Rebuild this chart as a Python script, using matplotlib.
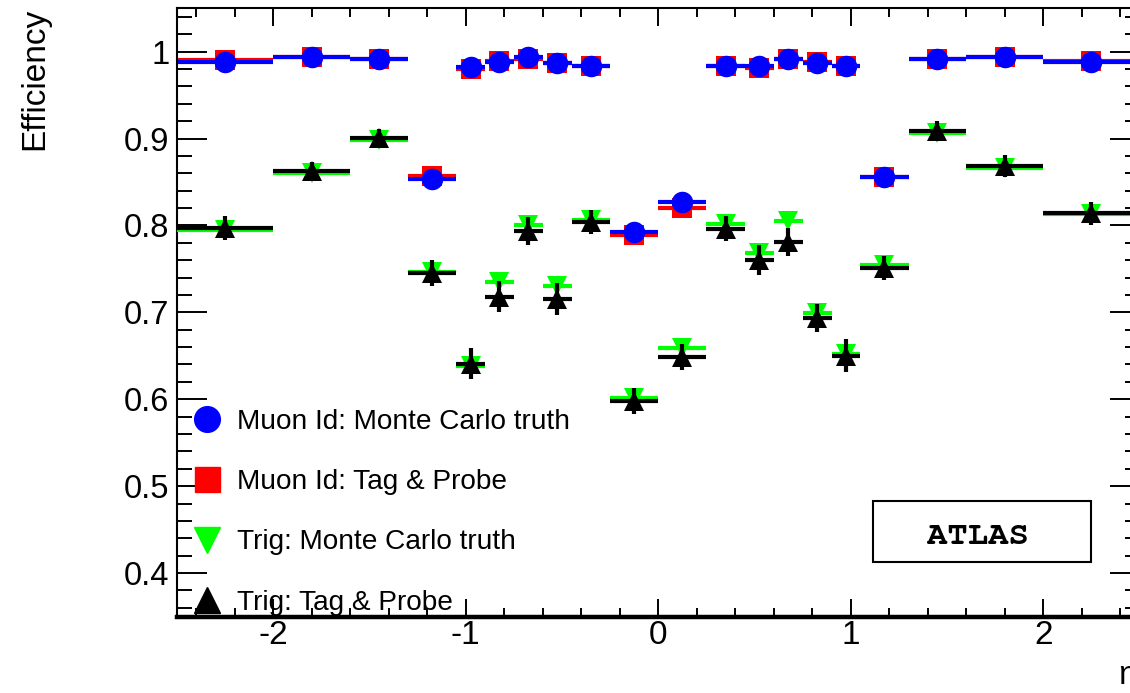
import matplotlib
matplotlib.use('Agg')
import matplotlib.pyplot as plt
import numpy as np
from matplotlib.lines import Line2D
from matplotlib.patches import Rectangle
from matplotlib.ticker import MultipleLocator, FuncFormatter

# eta binning and efficiencies
eta_edges = [-2.5, -2.0, -1.6, -1.3, -1.05, -0.9, -0.75, -0.6, -0.45, -0.25, 0.0,
             0.25, 0.45, 0.6, 0.75, 0.9, 1.05, 1.3, 1.6, 2.0, 2.5]

muid_mc = [0.988, 0.9935, 0.992, 0.854, 0.982, 0.988, 0.9935, 0.9866, 0.983, 0.792,
           0.827, 0.983, 0.984, 0.992, 0.9866, 0.983, 0.8555, 0.992, 0.994, 0.988]
muid_tp = [0.990, 0.994, 0.992, 0.857, 0.980, 0.989, 0.992, 0.987, 0.984, 0.789,
           0.820, 0.9835, 0.981, 0.992, 0.9885, 0.983, 0.8555, 0.992, 0.994, 0.989]
trig_mc = [0.795, 0.860, 0.898, 0.747, 0.638, 0.735, 0.8006, 0.7307, 0.8063, 0.601,
           0.6587, 0.8014, 0.768, 0.8055, 0.699, 0.6515, 0.754, 0.906, 0.8658, 0.813]
trig_tp = [0.797, 0.8627, 0.901, 0.745, 0.641, 0.718, 0.794, 0.7154, 0.8037, 0.598,
           0.649, 0.7963, 0.760, 0.7807, 0.6932, 0.650, 0.751, 0.9087, 0.8685, 0.814]

muid_err = [0.003] * 20
trig_mc_err = [0.006] * 20
trig_tp_err = [0.014, 0.010, 0.010, 0.015, 0.018, 0.018, 0.016, 0.018, 0.014, 0.015,
               0.015, 0.014, 0.017, 0.016, 0.016, 0.019, 0.014, 0.012, 0.013, 0.013]

labels = ['Muon Id: Monte Carlo truth', 'Muon Id: Tag & Probe',
          'Trig: Monte Carlo truth', 'Trig: Tag & Probe']

plt.rcParams['font.family'] = ['Liberation Sans', 'DejaVu Sans']
plt.rcParams['axes.unicode_minus'] = False

W, H = 1130, 693
fig = plt.figure(figsize=(W / 100, H / 100), dpi=100)
ax = fig.add_axes([177 / W, (H - 616.5) / H, 962.5 / W, 608.3 / H])

edges = np.array(eta_edges)
centers = 0.5 * (edges[1:] + edges[:-1])
halfw = 0.5 * (edges[1:] - edges[:-1])

series = [
    (muid_tp, muid_err, 'red', 's', 14.5, 1),
    (muid_mc, muid_err, 'blue', 'o', 15.5, 2),
    (trig_mc, trig_mc_err, '#00ff00', 'v', 15, 3),
    (trig_tp, trig_tp_err, 'black', '^', 15, 4),
]
for vals, err, col, mk, ms, z in series:
    ax.errorbar(centers, vals, xerr=halfw, yerr=err, fmt=mk, color=col,
                markersize=ms, markeredgewidth=0, elinewidth=3.0,
                capsize=2.6, capthick=3.0, zorder=z)

ax.set_xlim(-2.5, 2.5)
ax.set_ylim(0.35, 1.05)
ax.xaxis.set_major_locator(MultipleLocator(1))
ax.xaxis.set_minor_locator(MultipleLocator(0.2))
ax.yaxis.set_major_locator(MultipleLocator(0.1))
ax.yaxis.set_minor_locator(MultipleLocator(0.02))
ax.yaxis.set_major_formatter(FuncFormatter(lambda v, p: ('%.1f' % v).rstrip('0').rstrip('.')))

ax.tick_params(which='both', direction='in', top=True, right=True, width=1.4)
ax.tick_params(axis='y', which='major', length=21.5, labelsize=23.5, pad=5.5)
ax.tick_params(axis='y', which='minor', length=10.8)
ax.tick_params(axis='x', which='major', length=13, labelsize=24, pad=2.5)
ax.tick_params(axis='x', which='minor', length=6.5)
for s in ['left', 'top', 'right']:
    ax.spines[s].set_linewidth(1.5)
ax.spines['bottom'].set_linewidth(3.2)

handles = [Line2D([], [], ls='none', marker='o', color='blue', markersize=18.5),
           Line2D([], [], ls='none', marker='s', color='red', markersize=18),
           Line2D([], [], ls='none', marker='v', color='#00ff00', markersize=18.5),
           Line2D([], [], ls='none', marker='^', color='black', markersize=18.5)]
fig.legend(handles, labels, loc='upper left', bbox_to_anchor=(193 / W, (H - 409) / H),
           frameon=False, fontsize=20.2, handlelength=1.0, handletextpad=0.58,
           labelspacing=1.22, borderpad=0, borderaxespad=0)

ax.add_patch(Rectangle((0.7231, 0.0896), 0.2265, 0.1003, transform=ax.transAxes,
                       fill=False, edgecolor='black', linewidth=1.5, zorder=5))
ax.text(0.8322, 0.1315, 'ATLAS', transform=ax.transAxes, ha='center', va='center',
        fontsize=24.5, fontweight='bold',
        family=['Nimbus Mono PS', 'Courier New', 'FreeMono', 'Liberation Mono'], zorder=6)

fig.text(43 / W, 1 - 8 / H, 'Efficiency', rotation=90, rotation_mode='anchor',
         ha='right', va='baseline', fontsize=24)
fig.text(1118 / W, (H - 684) / H, 'η', ha='left', va='baseline', fontsize=24)

fig.savefig('out.png', dpi=100)
